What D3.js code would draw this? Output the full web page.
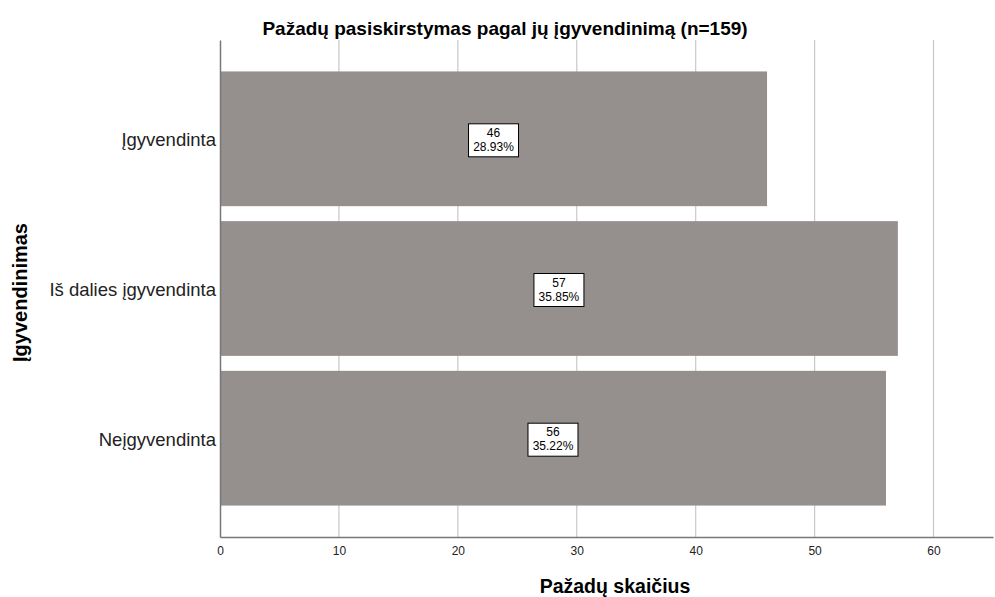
<!DOCTYPE html>
<html>
<head>
<meta charset="utf-8">
<script src="https://cdn.jsdelivr.net/npm/d3@7"></script>
<style>
  body { margin: 0; background: #fff; }
  text { font-family: "Liberation Sans", Arial, sans-serif; }
</style>
</head>
<body>
<script>
const categories = ["Įgyvendinta", "Iš dalies įgyvendinta", "Neįgyvendinta"];
const counts = [46, 57, 56];
const percents = ["28.93%", "35.85%", "35.22%"];
const xTicks = [0, 10, 20, 30, 40, 50, 60];

const data = categories.map((c, i) => ({ cat: c, n: counts[i], pct: percents[i] }));

const W = 995, H = 597;
const margin = { top: 40, left: 220, bottom: 60, right: 2 };
const width = W - margin.left - margin.right;
const height = H - margin.top - margin.bottom;

const svg = d3.select("body").append("svg")
  .attr("width", W)
  .attr("height", H);

const x = d3.scaleLinear().domain([0, 65]).range([0, width]);
const y = d3.scaleBand().domain(categories).range([0, height])
  .paddingInner(0.1).paddingOuter(0.21);

const chart = svg.append("g")
  .attr("transform", `translate(${margin.left},${margin.top})`);

// gridlines
chart.selectAll(".grid")
  .data(xTicks.filter(d => d > 0))
  .join("line")
  .attr("class", "grid")
  .attr("x1", d => x(d)).attr("x2", d => x(d))
  .attr("y1", 0).attr("y2", height)
  .attr("stroke", "#c8c8c8")
  .attr("stroke-width", 1.2);

// bars
chart.selectAll(".bar")
  .data(data)
  .join("rect")
  .attr("class", "bar")
  .attr("x", 0)
  .attr("y", d => y(d.cat))
  .attr("width", d => x(d.n))
  .attr("height", y.bandwidth())
  .attr("fill", "#958f8e");

// value labels
const lab = chart.selectAll(".lab")
  .data(data)
  .join("g")
  .attr("class", "lab")
  .attr("transform", d => `translate(${x(d.n / 2)},${y(d.cat) + y.bandwidth() / 2})`);

lab.append("rect")
  .attr("x", -25).attr("y", -15)
  .attr("width", 50).attr("height", 33)
  .attr("fill", "#fff")
  .attr("stroke", "#000")
  .attr("stroke-width", 1);

lab.append("text")
  .attr("text-anchor", "middle")
  .attr("y", -2)
  .attr("font-size", 12)
  .attr("fill", "#000")
  .text(d => d.n);

lab.append("text")
  .attr("text-anchor", "middle")
  .attr("y", 12)
  .attr("font-size", 12)
  .attr("fill", "#000")
  .text(d => d.pct);

// x axis
const xAxis = chart.append("g")
  .attr("transform", `translate(0,${height})`)
  .call(d3.axisBottom(x).tickValues(xTicks).tickSize(0).tickPadding(9));
xAxis.select(".domain").attr("stroke", "#777").attr("stroke-width", 1.5);
xAxis.selectAll("text").attr("font-size", 12).attr("fill", "#222");

// y axis
const yAxis = chart.append("g")
  .call(d3.axisLeft(y).tickSize(0).tickPadding(4));
yAxis.select(".domain").attr("stroke", "#777").attr("stroke-width", 1.5);
yAxis.selectAll("text").attr("font-size", 18.5).attr("fill", "#222")
  .attr("dy", "0.4em");

// titles
svg.append("text")
  .attr("x", 505).attr("y", 35)
  .attr("text-anchor", "middle")
  .attr("font-size", 19).attr("font-weight", "bold")
  .attr("fill", "#000")
  .text("Pažadų pasiskirstymas pagal jų įgyvendinimą (n=159)");

svg.append("text")
  .attr("x", 615).attr("y", 593)
  .attr("text-anchor", "middle")
  .attr("font-size", 19.5).attr("font-weight", "bold")
  .attr("fill", "#000")
  .text("Pažadų skaičius");

svg.append("text")
  .attr("transform", `translate(27,${margin.top + height / 2 + 4}) rotate(-90)`)
  .attr("text-anchor", "middle")
  .attr("font-size", 20).attr("font-weight", "bold")
  .attr("fill", "#000")
  .text("Įgyvendinimas");
</script>
</body>
</html>
